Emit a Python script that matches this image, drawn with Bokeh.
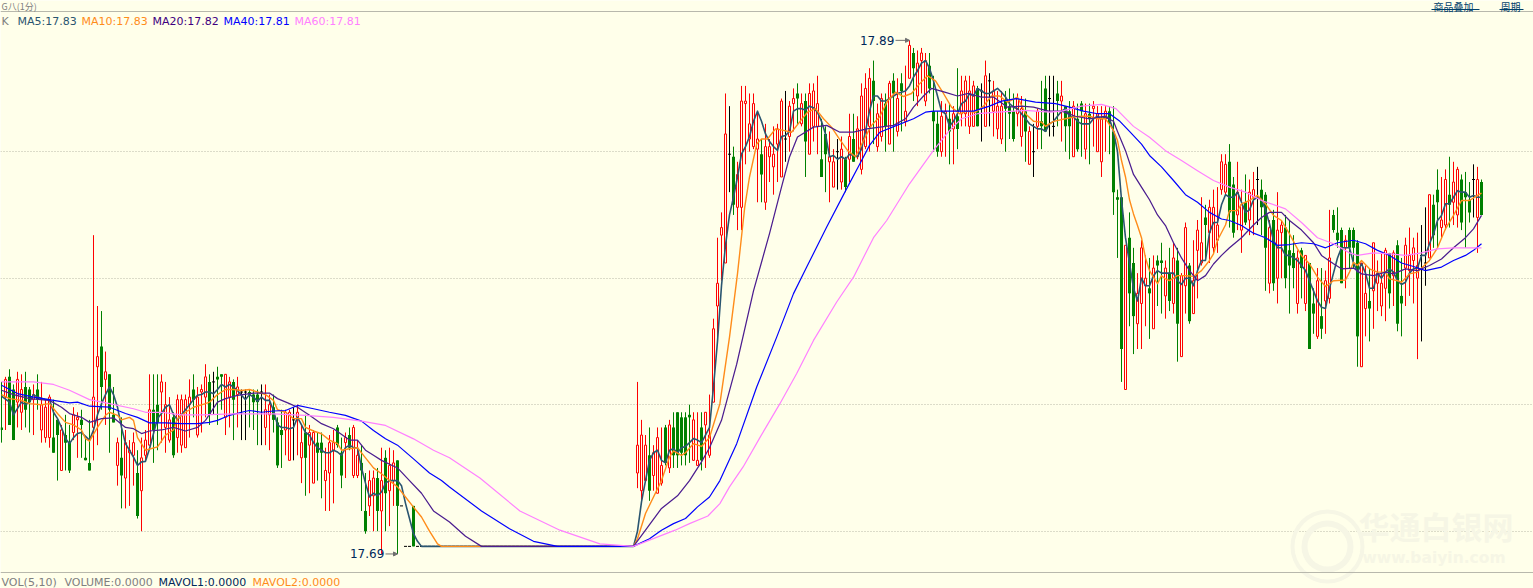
from bokeh.plotting import figure
from bokeh.models import ColumnDataSource, Label, Span, Arrow, NormalHead, FixedTicker
from bokeh.embed import file_html
from bokeh.resources import INLINE
from bokeh.core.properties import value

# Prices are listed in thousandths above 17 (e.g. 759 -> 17.759)
FLAT = 55
high_m = [
 759,761,764,758,763,762,763,757,758,762, 759,752,754,752,744,742,746,742,749,747,
 748,737,744,817,789,787,771,762,757,737, 745,740,736,739,732,737,740,762,762,762,
 762,759,753,747,754,754,754,760,762,757, 758,766,762,763,765,762,762,761,760,761,
 756,756,756,756,756,758,758,754,754,745, 748,748,748,749,750,742,746,742,740,739,
 739,733,738,740,742,737,739,741,742,736, 734,723,724,724,725,733,732,733,732,728,
 710,694,694,710] + [694]*FLAT + [
 759,744,738,741,734,741,741,742,744,747,747, 747,747,750,747,747,747,747,754,784,816,826,873,
 868,852,846,876,876,873,873,866,855,861, 855,860,861,871,874,870,875,877,873,873,
 877,877,880,863,860,858,851,855,856,848, 865,865,864,877,881,883,886,869,873,873,
 878,881,879,881,884,894,891,890,891,889, 889,880,866,870,869,869,868,883,880,880,
 880,878,876,877,886,881,878,874,874,874, 875,873,873,872,871,860,861,867,878,880,
 880,880,878,878,868,870,870,869,870,869, 869,870,868,868,868,868,868,835,832,813,
 826,812,802,815,809,808,809,809,814,807, 812,814,812,802,822,806,815,823,832,829,
 831,835,836,849,849,853,840,846,835,841, 839,842,844,839,834,823,827,834,823,825,
 823,817,811,812,809,806,796,804,804,803, 827,827,828,820,817,820,820,815,806,805,
 804,814,807,810,812,810,811,815,808,816, 820,816,818,821,828,833,833,843,840,843,
 848,846,844,841,842,838,845,844,839]
body_top_m = [
 741,760,761,756,760,756,757,756,754,756, 750,749,753,737,744,740,738,735,746,745,
 744,729,727,753,769,773,763,762,746,735, 729,735,732,735,723,729,736,748,748,750,
 759,750,744,745,752,752,752,753,756,753, 756,761,759,759,761,762,762,759,759,757,
 755,755,755,754,754,755,748,750,749,743, 740,747,747,744,747,735,739,739,739,735,
 735,724,735,735,741,731,737,738,741,730, 727,708,720,721,721,720,729,726,727,728,
 710,694,694,710] + [694]*FLAT + [
 734,738,734,730,731,737,726,741,742,741,747, 745,745,746,744,728,741,747,738,780,798,820,857,
 849,848,841,870,870,861,869,855,849,852, 852,849,859,870,855,868,871,873,869,870,
 873,874,869,847,857,848,846,850,851,847, 856,855,859,872,875,879,878,865,871,869,
 877,878,871,877,866,892,889,885,889,886, 884,866,861,864,866,863,865,864,874,878,
 874,876,875,874,880,878,874,868,868,870, 868,866,871,867,866,858,850,866,862,875,
 871,860,873,872,868,866,868,863,869,865, 865,868,865,863,866,866,858,832,832,813,
 816,806,794,812,800,796,804,807,807,804, 802,808,807,801,820,805,799,819,814,824,
 828,828,821,846,845,846,837,834,829,830, 834,835,839,835,833,820,823,819,821,820,
 811,810,808,811,809,806,790,799,785,799, 808,825,818,819,815,819,819,814,806,794,
 791,814,802,798,811,810,810,813,793,813, 809,812,805,809,806,833,829,835,823,839,
 833,838,843,839,834,831,839,839,838]
body_bottom_m = [
 740,753,742,736,751,747,748,751,752,752, 740,737,737,731,738,724,735,724,739,744,
 742,728,724,741,765,757,760,748,743,726, 722,721,731,730,706,716,730,734,740,743,
 755,741,736,730,737,734,733,750,752,738, 755,753,746,759,760,761,745,753,752,754,
 755,755,754,751,751,755,741,746,744,726, 738,740,728,744,745,729,729,734,719,731,
 731,720,723,732,734,722,735,733,722,722, 724,700,710,714,708,708,715,716,720,710,
 710,694,694,694] + [694]*FLAT + [
 723,716,720,716,722,715,719,727,725,730,730, 731,730,745,728,726,728,742,730,751,789,817,806,
 849,829,828,828,869,855,852,851,841,830, 848,844,853,840,855,856,869,871,861,854,
 849,860,860,840,849,846,836,850,838,836, 847,846,848,843,852,860,870,852,856,860,
 853,873,858,874,862,879,883,872,886,870, 875,862,850,850,865,858,859,859,865,865,
 860,860,860,874,860,878,866,859,855,867, 865,855,865,856,858,845,850,860,860,858,
 871,860,870,870,860,860,848,851,866,851, 863,867,850,846,863,861,834,831,772,756,
 794,785,782,790,797,794,780,805,806,793, 791,790,782,769,797,783,786,811,806,821,
 818,812,815,835,834,826,818,825,819,822, 823,832,839,828,812,798,798,800,818,800,
 805,804,790,804,790,772,786,777,780,791, 792,819,815,798,812,812,812,777,765,788,
 788,795,798,789,796,794,801,782,790,804, 803,807,800,809,806,808,817,830,820,821,
 829,830,825,822,832,826,839,824,825]
low_m = [
 735,740,742,736,741,740,741,739,738,748, 735,735,733,731,720,724,724,723,736,729,
 729,728,724,728,734,748,742,731,743,718, 709,709,710,718,705,700,728,734,727,732,
 735,731,735,729,731,731,733,737,745,737, 739,745,742,746,742,748,738,741,736,741,
 736,736,741,740,734,734,734,732,739,725, 725,730,728,728,730,719,714,715,719,720,
 713,708,708,711,733,717,721,732,721,721, 708,699,706,700,700,691,700,702,710,691,
 710,694,694,694] + [694]*FLAT + [
 717,712,720,712,716,715,718,726,723,725,725, 726,726,727,728,726,724,725,729,751,775,799,806,
 834,825,819,819,845,850,851,830,830,827, 838,833,838,840,846,850,858,861,860,840,
 849,854,849,840,834,830,836,835,835,834, 838,846,847,841,851,850,853,850,854,850,
 853,850,856,858,860,879,870,868,873,868, 873,850,848,848,848,845,845,851,860,860,
 857,860,860,854,860,860,856,855,853,850, 855,854,860,852,846,845,840,851,851,858,
 856,856,860,854,850,847,848,850,848,847, 845,852,850,840,850,849,825,808,759,756,
 781,770,772,772,781,776,780,789,786,784, 787,786,767,769,786,782,786,792,805,807,
 806,810,810,833,833,820,816,819,810,821, 817,817,821,817,795,794,795,790,800,796,
 786,796,786,792,787,772,778,776,776,778, 790,818,812,798,796,804,804,765,765,777,
 775,780,787,785,783,788,789,779,777,789, 793,790,768,775,797,808,812,812,816,819,
 820,821,820,819,812,822,824,810,825]
# u = rising (red, hollow), d = falling (green, solid), k = open equals close (black)
kinds = "".join([
 "dudduuddud", "uuuddudduu", "ddduududdu", "duuuduuudd", "uuuduuuudu",
 "uudkdduudu", "kkdddkuudd", "duukuuduud", "duuudduduu", "dduududuud",
 "kkkd", "k"*FLAT,
 "uuuduuududd",   # 159-169
 "ddduuduuuuuu",  # 170-181
 "kduuuuuudu",    # 182-191
 "uuuukuudud",    # 192-201
 "uuudduukud",    # 202-211
 "uduuuuduud",    # 212-221
 "ududuuduuu",    # 222-231
 "ddduududuu",    # 232-241
 "uudkukuuud",    # 242-251
 "dduudukudd",    # 252-261
 "kkduddudd" "u", # 262-271
 "duuuuddddu",    # 272-281
 "dduuududdu",    # 282-291
 "duduuduuud",    # 292-301
 "uuuuudduud",    # 302-311
 "uukdduduud",    # 312-321
 "ddududdudu",    # 322-331
 "udddudddu" "u", # 332-341
 "duuuududdu",    # 342-351
 "uuukkuddu" "u", # 352-361
 "duuddd" "kud",  # 362-370
])

ma5_i = [0,2,3,5,6,7,8,9,11,12,13,14,15,16,17,18,19,20,21,22,23,24,25,26,27,28,29,30,31,32,33,34,35,36,37,38,39,40,41,42,43,44,45,46,47,48,49,50,51,52,53,54,55,56,57,58,59,60,61,62,63,64,65,66,67,68,69,70,71,72,73,74,75,76,77,78,79,80,81,82,83,84,85,86,87,88,89,90,91,92,93,94,95,96,97,98,99,100,101,102,103,104,105,158,159,160,161,162,163,164,165,166,167,168,169,170,171,172,173,174,175,176,177,178,179,180,181,182,183,184,185,186,187,188,189,190,191,192,193,194,195,196,197,198,199,200,201,202,203,204,205,206,207,208,209,210,211,212,213,214,215,216,217,218,219,220,221,222,223,224,225,226,227,228,229,230,231,232,233,234,235,236,237,238,239,240,241,242,243,244,245,246,247,248,249,250,251,252,253,254,255,256,257,258,259,260,261,262,263,264,265,266,267,268,269,270,271,272,273,274,275,276,277,278,279,280,281,282,283,284,285,286,287,288,289,290,291,292,293,294,295,296,297,298,299,300,301,302,303,304,305,306,307,308,309,310,311,312,313,314,315,316,317,318,319,320,321,322,323,324,325,326,327,328,329,330,331,332,333,334,335,336,337,338,339,340,341,342,343,344,345,346,347,348,349,350,351,352,353,354,355,356,357,358,359,360,361,362,363,364,365,366,367,368,369,370]
ma5_v = [753.4,751,746,751,750,751,754,753,752,752,747,744.5,741,736.6,734.6,737,738.6,739,737.5,736,740,746,750.4,754,757,754,749,741,734.6,732,729.3,726,727.4,727.6,732.6,738.6,744.5,746.5,749,750,746,744,746,748,750,752,753.7,754,755,755,754.3,756,758,757,758,757,755.6,753.7,752,754,753,751.4,753,751.7,751.7,747.7,742,741,741,740.5,741,745,742,739,738,735,733,732,731,731,732,731.3,730,733,734,733,733,725,719,713.5,715,714,715.5,719,720,720,720,718,711,705,699,696,694,694,700,711.6,720,728,731,732,728,727,732,732.6,731,733,733.5,735,736.6,736,735,738,741,757,775,797,813,825,832,840,849,852,856,862,866,862,857,854,852,850.5,856,856.4,858,866,867,867,866.5,868,867.4,865.6,862,857,848,848.5,847,848,847,849,848.5,848,851,858,866,872,872,870,870,871,872,873,873.5,874,876,879.5,882,885,886,883,878,872,866,865,860,862,865,869,870,873,872,875,874,873,873,874,875,873.5,871.6,869,867.6,867,865,863,861,860,859,859,858,861,862,864,866,867,864,863.7,862,861,861,861,863,864,863,864,863,858,850,831,816,806,796,791,800,797,797,801,803,802,802,802,802,799,797.5,800,800,797,803,807,807,818,822,822,829,833,832,832,834,830,826,827,831,832,831,827,821.5,815,812,812,809,809,808,807,805,803,799,795,791,788.5,788,796,802,808,812,812,812,806,802.4,805.7,802,796,796,802,800,802.4,803.7,802.4,799,797.5,798.4,802,803.7,804,809,809,813.6,817.5,822.8,824.8,829.4,829.4,832,834.6,834,834,832,832.7,832,832]

ma10_i = [0,2,5,7,10,12,14,16,18,20,21,22,24,26,27,29,30,32,33,34,36,39,41,43,44,46,48,51,52,54,56,58,60,62,64,66,68,69,71,73,75,76,78,80,82,84,85,87,89,91,93,95,97,99,101,103,105,107,109,110,158,159,161,163,165,167,168,170,171,173,175,177,179.6,182,184,185.8,187,188.8,190,191.5,193.5,195.5,197.5,199.5,201.5,203.5,205.5,207.5,209.5,211.5,213.5,215.5,217.5,219.5,221.5,223.5,225.5,227.5,229.5,231.5,233.5,235.5,237.5,239.5,241.5,243.5,245.5,247.5,249.5,251.5,254,256,258,260,261,263,266,268,270,272,274,276,278,279,280,281,282,283,284,285,286,287,288,289,290,291,292,294,296,298,300,302,303,304,306,307,309,310,312,314,316,318,320,322,324,325,327,329,331,333,336,337,338,339,340,342,344,346,347,349,350,352,354,357,359,361,363,365,367,369,370]
ma10_v = [754,752.4,751.7,750.4,750,750.4,746.5,743,742,740,736.6,735.6,741,745.8,747,745.8,744,745,743.8,737,732,733.3,738,740,744.5,747,749,750.4,751,754,756,756,755.6,756,755,754,751.7,748,747,744.5,744.5,741,739.6,738.5,736,734.6,732,732.6,733,729,725,722.7,720,717.5,713.5,709.5,705.6,700,695,694,694,697,707,713.5,720,729.3,731.7,730,731,734.6,733.5,737,750.4,776.7,801.8,828,840,853,855,855,859,858.4,857.7,861.7,865.6,867,863,859.7,855,850.5,848,854.4,860.4,863.7,870,873.5,871.8,873,876.8,880,878,873,867.6,865,866,865.6,868,872,872,869.6,871.6,865,862,861.7,860,862,863,863.7,864,864,863,863,858.4,854.4,846.5,840,831,825.4,820.8,816,808,803,800.4,797.8,801,799.7,799,801,801,800.7,803,807,809.6,815,821,826.7,826.7,829.4,830.7,832.7,829.4,824.8,822.8,817.5,811.6,809,805.7,800.4,796.7,799,799.3,802.4,806.3,805,807,803.7,802.4,802.4,799.7,799,798.4,801.7,802.4,807,812,819.5,824.8,830.7,830.7,832.7,833.6]

ma20_i = [0,3,7,12,15,17,20,22,25,28,31,33,35,37,40,43,46,49,51,54,56,59,63,67,69,72,74,77,80,83,87,89,91,93,95,99,102,105,108,112,116,120,158,161,165,169,172,175,177,180,183.8,188,192,195,197,199,203,206.3,209.6,213,216.3,219.6,223,226,228,230.5,232.5,235.8,239,241.7,245,248,251.5,255,258,261.7,265,268.5,272,275.5,278,279,281,283,285,287,289,291,293,295,297,299,301,303,305,307,310,313,315,317,320,322,325,328,330,333,335,338,340,343,346,348,351,354,357,360,363,366,368,370]
ma20_v = [755.7,754,752.4,751.7,749,746.5,745,743,744.5,744.8,741,740.5,738.6,739.6,740,741,739.6,741,743.8,751,752.4,753.7,754.6,754.6,752.4,750.4,749,745.8,742.5,740.5,736,736,732,730,728,725,720,715,708,703.6,698,694,694,700.4,709,714,720,727.4,733,743.8,766,795,817.6,836,847.9,855.8,859.7,860.4,857.7,857.7,859,859.7,860.4,863,867.6,872,875,873.5,872,873,871.6,871.6,867.6,868,867.6,866,866,864,863,864,862,858,850.4,841,836,831,825,820.8,814,808,803,799,801,805.6,809,812,816,821,824,826,826,822.8,819,814,809,805.7,803.7,804,801.7,801,802.4,801.7,803.7,803,805,807.6,812,816,819.5,824.8]

ma40_i = [0,4,8,13,17,19,22,27,31,34,37,41,45,49,52,54,57,60,62,65,68,71,74,78,82,86,90,93,96,99,103,107,110,112,120,127,133,139,158,162,165,168,171,174,177,179.6,183.8,188.8,193.8,198,201.3,206.3,211.3,214.6,217,219.6,223.8,228,231,233,243,247,250,253.7,258.5,263.5,267,270.5,274,277,279.6,282,285,287,290,293,296,299,302,305,307,310,313,316,319,322,325,328,331,334,338,341,344,347,350,353,356,360,363,366,368,370]
ma40_v = [757.7,754.4,753,751.7,750.7,751,749.4,749,746.5,745,742.8,742.8,742.5,742.5,743,743.8,745.8,747,747.7,747,747.5,747.7,749.7,748.4,747,745.8,743.5,739.8,736.5,734,728.6,723,720,717.5,708,701,696,694,694,697,700.4,703,705,709.6,713.5,720,734.6,757,776.7,793.9,804.4,820.2,835.4,845.2,852.5,857.7,860.4,863,865.6,866,866,868,870,871,869.6,869,867.6,866,865,865,862,858,853,848.5,844,838.6,833,830,826,823.4,822.8,820.8,817.8,816,813,813.3,814,813.6,812,814,815,813.6,811,809,806,804.6,803,804.4,807,809,811,813.6]

ma60_i = [0,8,13,17,22,27,33,36,40,45,50,58,68,76,83,90,96,103,108,112,119.6,129.6,139.6,149.6,158,168.4,172,176.6,179.6,182,185.4,189.6,194.6,198.8,203,208.8,213,218,221.3,227,233,237,240,244,249,256,262,265,270,275,278.6,283,287,291,295,299,303,307,311,315,321,325,329,333,337,339,343,347,351,355,359,363,367,370]
ma60_v = [759,759,758,755.7,752,750.4,748.4,747,747,746,746,746.4,746.4,745.8,745,743.5,741.8,736.5,732,729,721,708,700.4,695,694,700.4,703,706,710.9,717.5,725.4,737,750.4,762.3,775.4,790.6,800.4,816,822.8,837.3,850.5,858.4,863,865,865.6,866.3,865.6,866,868,868.7,867,860,855.7,850.4,846.5,842.5,838.6,836,834,830.7,827.4,822,816,813.6,810,809,810,809.6,809,810,811.6,812,812,812]

grid_prices = [17.70, 17.75, 17.80, 17.85]
extreme_i = [227, 99]
extreme_m = [894, 691]
extreme_labels = ["17.89", "17.69"]

BG = "#FFFFEA"
KIND_COLOR = {"u": "#FF0000", "d": "#008000", "k": "#000000"}
MA_COLORS = ["#2A5570", "#FF8C1A", "#4B1D8F", "#0000FF", "#FF80FF"]
MA_WIDTHS = [1.6, 1.4, 1.25, 1.2, 1.2]
NAVY = "#00285A"
W, H = 1533, 588
TOP, BOT = 17.90975, 17.67735

def price(seq):
    return [17 + m / 1000.0 for m in seq]

n = len(high_m)
idx = list(range(n))
table = {
    "i": idx, "high": price(high_m), "low": price(low_m),
    "top": price(body_top_m), "bot": price(body_bottom_m),
    "color": [KIND_COLOR[k] for k in kinds],
    "l": [j - 0.375 for j in idx], "r": [j + 0.375 for j in idx],
}
def subset(kind):
    keep = [j for j in idx if kinds[j] == kind]
    return ColumnDataSource({k: [v[j] for j in keep] for k, v in table.items()})

# Bokeh's SVG context shifts drawing by half a pixel, so candle i sits on pixel 1 + 4i here
X0, PX = 1.0, 4.0
p = figure(width=W, height=H, output_backend="svg", toolbar_location=None,
           x_range=(-X0 / PX, (W - X0) / PX), y_range=(BOT, TOP),
           min_border=0, background_fill_color=BG, border_fill_color=BG,
           outline_line_color=None, margin=(0, 0, 0, 0))
p.axis.visible = False
p.xgrid.visible = False
p.ygrid.ticker = FixedTicker(ticks=grid_prices)
p.ygrid.grid_line_color = "#B8B8A8"
p.ygrid.grid_line_dash = "1 2"

def sy(px_from_top):
    return H - px_from_top

def py(px_from_top):
    return TOP - px_from_top / H * (TOP - BOT)

def ix(px_from_left):
    return (px_from_left - X0) / PX

# frame rules
for rule in (11, 572):
    p.add_layout(Span(location=py(rule), dimension="width", line_color="#B8B8AC", line_width=1))

# watermark
wm = "#F6F6E5"
p.annulus(x=[ix(1327)], y=[py(546)], inner_radius=33, outer_radius=37,
          inner_radius_units="screen", outer_radius_units="screen",
          fill_color=wm, line_color=None)
p.annulus(x=[ix(1327)], y=[py(546)], inner_radius=20, outer_radius=26,
          inner_radius_units="screen", outer_radius_units="screen",
          fill_color=wm, line_color=None)
p.add_layout(Label(x=1358, y=sy(547), x_units="screen", y_units="screen", text="华通白银网",
                   text_color=wm, text_font="Noto Sans CJK SC", text_font_size="31px",
                   text_font_style="bold"))
p.add_layout(Label(x=1362, y=sy(566), x_units="screen", y_units="screen", text="www.baiyin.com",
                   text_color=wm, text_font="DejaVu Sans", text_font_size="15.5px",
                   text_font_style="bold"))

# candles
up, down, doji = subset("u"), subset("d"), subset("k")
for src in (up, down, doji):
    p.segment(x0="i", x1="i", y0="low", y1="high", source=src, line_color="color", line_width=1)
p.vbar(x="i", width=0.5, top="top", bottom="bot", source=up,
       fill_color=BG, line_color="color", line_width=1)
p.vbar(x="i", width=0.75, top="top", bottom="bot", source=down,
       fill_color="color", line_color=None)
p.segment(x0="l", x1="r", y0="top", y1="top", source=doji, line_color="color", line_width=1)

# moving averages
for (xs, ys), col, lw in zip([(ma5_i, ma5_v), (ma10_i, ma10_v), (ma20_i, ma20_v),
                              (ma40_i, ma40_v), (ma60_i, ma60_v)], MA_COLORS, MA_WIDTHS):
    p.line(xs, price(ys), line_color=col, line_width=lw, line_join="round")

# high / low callouts
for i_, m_, lab, tail in zip(extreme_i, extreme_m, extreme_labels, [3.5, 3.0]):
    y_ = 17 + m_ / 1000.0
    p.add_layout(Arrow(x_start=i_ - tail, y_start=y_, x_end=i_, y_end=y_,
                       line_color="#707070", line_width=1,
                       end=NormalHead(size=4, fill_color="#707070", line_color="#707070")))
    p.text(x=[i_ - tail - 0.3], y=[y_], text=[lab], text_align="right", text_baseline="middle",
           text_color=NAVY, text_font=value("DejaVu Sans"), text_font_size="12px")

# texts
def tx(x, y, s, col, font="DejaVu Sans", size="11px"):
    p.add_layout(Label(x=x, y=sy(y), x_units="screen", y_units="screen", text=s, text_color=col,
                       text_font=font, text_font_size=size, text_baseline="alphabetic"))

tx(1, 21, "K", "#808080")
tx(17, 21, "MA5:17.83", MA_COLORS[0])
tx(81, 21, "MA10:17.83", MA_COLORS[1])
tx(152, 21, "MA20:17.82", "#400080")
tx(223, 21, "MA40:17.81", MA_COLORS[3])
tx(294, 21, "MA60:17.81", MA_COLORS[4])
tx(1, 582, "VOL(5,10)", "#808080")
tx(64, 582, "VOLUME:0.0000", "#808080")
tx(158, 582, "MAVOL1:0.0000", NAVY)
tx(252, 582, "MAVOL2:0.0000", MA_COLORS[1])
tx(1, 6, "G八(1分)", "#808080", font="Noto Sans CJK SC", size="9px")
tx(1433, 6, "商品叠加", "#00406A", font="Noto Sans CJK SC", size="10px")
tx(1500, 6, "周期", "#00406A", font="Noto Sans CJK SC", size="10px")
p.segment(x0=[ix(1431), ix(1499)], x1=[ix(1479), ix(1523)],
          y0=[py(9)] * 2, y1=[py(9)] * 2, line_color="#00406A", line_width=1)

open("out.html", "w").write(file_html(p, INLINE))
